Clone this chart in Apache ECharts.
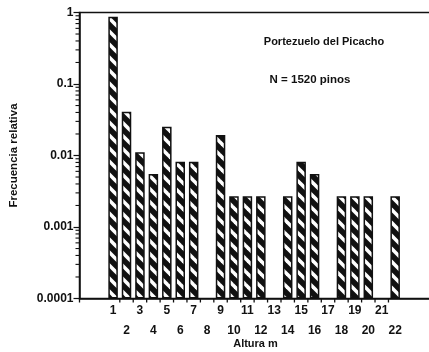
<!DOCTYPE html>
<html>
<head>
<meta charset="utf-8">
<script src="https://cdn.jsdelivr.net/npm/echarts@6/dist/echarts.min.js"></script>
<style>
  html, body { margin: 0; padding: 0; background: #fff; }
  #chart { width: 429px; height: 352px; }
</style>
</head>
<body>
<div id="chart"></div>
<script>
// Height classes (m) and relative frequency of pines in each class
const alturas = [1, 2, 3, 4, 5, 6, 7, 8, 9, 10, 11, 12, 13, 14, 15, 16, 17, 18, 19, 20, 21, 22];
const frecuencias = [0.87, 0.041, 0.0111, 0.0055, 0.0253, 0.0082, 0.0082, null, 0.0194, 0.0027,
                     0.0027, 0.0027, null, 0.0027, 0.0082, 0.0055, null, 0.0027, 0.0027, 0.0027,
                     null, 0.0027];
const yTickLabels = ['0.0001', '0.001', '0.01', '0.1', '1'];
const titulo = 'Portezuelo del Picacho';
const subtitulo = 'N = 1520 pinos';
const xNombre = 'Altura m';
const yNombre = 'Frecuencia relativa';

const INK = '#111';
const FONT = 'Liberation Sans, Arial, sans-serif';
const X_MIN = -1.5, X_MAX = 25.3;
const Y_MIN = 0.0001, Y_MAX = 1;

// Minor ticks of the log axis: 2..9 within each decade
const minorTicks = [];
for (let e = -4; e < 0; e++) {
  for (let k = 2; k <= 9; k++) minorTicks.push([X_MIN, k * Math.pow(10, e)]);
}
// x ticks sit on the boundaries between neighbouring height classes
const limitesClase = alturas.slice(0, -1).map(a => a + 0.5);

// Diagonal hatch tile: black ground with white "\" stripes
function hatchTile(size, band) {
  const c = document.createElement('canvas');
  c.width = c.height = size;
  const g = c.getContext('2d');
  g.fillStyle = INK;
  g.fillRect(0, 0, size, size);
  g.strokeStyle = '#fff';
  g.lineWidth = band;
  for (const off of [-size, 0, size]) {
    g.beginPath();
    g.moveTo(-3, -3 + off);
    g.lineTo(size + 3, size + 3 + off);
    g.stroke();
  }
  return c;
}

const chart = echarts.init(document.getElementById('chart'), null, { renderer: 'canvas' });

chart.setOption({
  animation: false,
  backgroundColor: '#fff',
  grid: {
    left: 79.5, top: 12.5, width: 360, height: 286,
    outerBoundsMode: 'none', containLabel: false,
    show: true, borderColor: INK, borderWidth: 1.5, backgroundColor: 'transparent'
  },
  xAxis: {
    // class labels (whole metres), odd ones on the first row, even ones below
    type: 'value', min: X_MIN, max: X_MAX, interval: 0.5, position: 'bottom',
    splitLine: { show: false },
    axisLine: { show: true, onZero: false, lineStyle: { color: INK, width: 1.5 } },
    axisTick: { show: false },
    axisLabel: {
      color: INK, fontFamily: FONT, fontSize: 12, fontWeight: 'bold',
      margin: 2, lineHeight: 20, showMinLabel: true, showMaxLabel: true,
      formatter: function (v) {
        const n = Math.round(v * 2) / 2;
        if (!alturas.includes(n)) return '';
        return n % 2 ? String(n) : '\n' + n;
      }
    },
    name: xNombre, nameLocation: 'middle', nameGap: 45, nameMoveOverlap: false,
    nameTextStyle: {
      color: INK, fontFamily: FONT, fontSize: 11, fontWeight: 'bold',
      verticalAlign: 'middle', padding: [0, 8, 0, 0]
    }
  },
  yAxis: {
    type: 'log', logBase: 10, min: Y_MIN, max: Y_MAX, startValue: Y_MIN,
    splitLine: { show: false },
    axisLine: { show: true, onZero: false, lineStyle: { color: INK, width: 1.5 } },
    axisTick: { show: true, length: 6, lineStyle: { color: INK, width: 1.2 } },
    axisLabel: {
      color: INK, fontFamily: FONT, fontSize: 12, fontWeight: 'bold', margin: 6,
      formatter: function (v) {
        const i = Math.round(Math.log10(v)) + 4;
        return yTickLabels[i] !== undefined ? yTickLabels[i] : '';
      }
    },
    name: yNombre, nameLocation: 'middle', nameGap: 60, nameRotate: 90,
    nameTextStyle: { color: INK, fontFamily: FONT, fontSize: 11.5, fontWeight: 'bold' }
  },
  series: [
    {
      type: 'bar',
      barWidth: 9.5,
      data: alturas.map((a, i) => [a, frecuencias[i]]),
      itemStyle: {
        color: { image: hatchTile(13, 3.6), repeat: 'repeat' },
        borderColor: INK, borderWidth: 1.5
      }
    },
    {
      // minor ticks of the log axis, drawn outside its line
      type: 'custom',
      clip: false,
      silent: true,
      data: minorTicks,
      encode: { x: 0, y: 1 },
      renderItem: function (params, api) {
        const p = api.coord([api.value(0), api.value(1)]);
        return {
          type: 'line',
          shape: { x1: p[0] - 4, y1: p[1], x2: p[0], y2: p[1] },
          style: { stroke: INK, lineWidth: 1.1 }
        };
      }
    }
  ]
});

// Class-boundary ticks under the x axis (plus the corner overhang),
// placed through the chart's own coordinate conversion
const tickLines = [X_MIN].concat(limitesClase).map(function (v) {
  const p = chart.convertToPixel({ gridIndex: 0 }, [v, Y_MIN]);
  return {
    type: 'line', silent: true, z: 10,
    shape: { x1: p[0], y1: p[1], x2: p[0], y2: p[1] + 4 },
    style: { stroke: INK, lineWidth: 1.3 }
  };
});

chart.setOption({
  graphic: [
    {
      type: 'text', x: 324, y: 42,
      style: {
        text: titulo, align: 'center', verticalAlign: 'middle',
        fill: INK, font: 'bold 11px ' + FONT
      }
    },
    {
      type: 'text', x: 310, y: 80,
      style: {
        text: subtitulo, align: 'center', verticalAlign: 'middle',
        fill: INK, font: 'bold 11.5px ' + FONT
      }
    }
  ].concat(tickLines)
});
</script>
</body>
</html>
